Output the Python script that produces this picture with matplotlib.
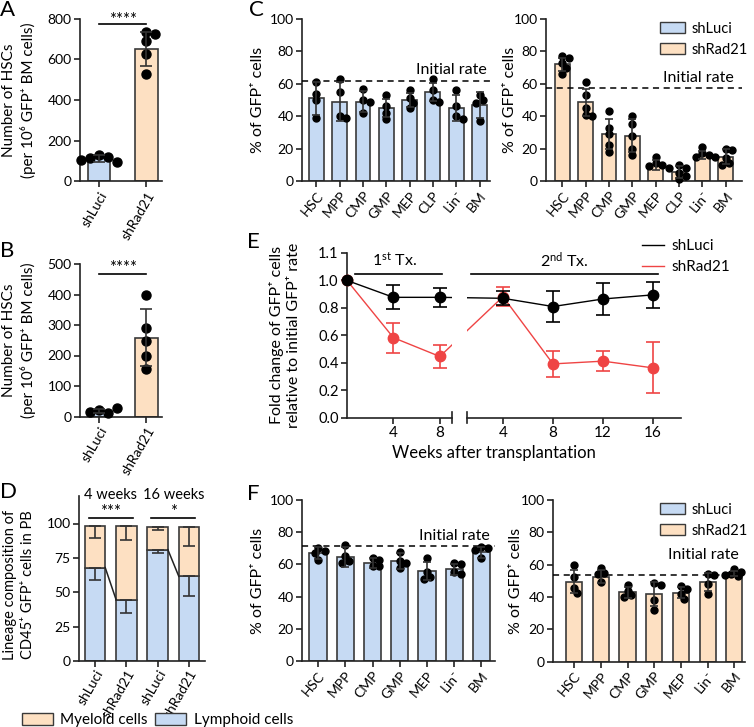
import matplotlib
matplotlib.use("Agg")
import matplotlib.pyplot as plt
import numpy as np
from matplotlib.patches import Patch
from matplotlib.lines import Line2D

plt.rcParams["font.family"] = ["Lato", "DejaVu Sans"]
plt.rcParams["mathtext.fontset"] = "custom"
plt.rcParams["mathtext.rm"] = "Lato"
plt.rcParams["mathtext.it"] = "Lato:italic"

# ---- data ----
groups = ["shLuci", "shRad21"]

a_mean = [112, 652]
a_sd = [18, 83]
a_pts = [[130, 118, 112, 95, 105], [735, 725, 690, 625, 530]]

b_mean = [18, 258]
b_sd = [6, 93]
b_pts = [[22, 12, 14, 28], [400, 290, 247, 198, 157]]

c_cells = ["HSC", "MPP", "CMP", "GMP", "MEP", "CLP", "Lin\u207b", "BM"]
c_luci_mean = [51, 49, 49, 45, 50, 55, 45, 47]
c_luci_sd = [10, 12, 6.5, 5.5, 4.5, 5.5, 8, 8]
c_luci_pts = [[61, 54, 50, 39], [63, 55, 40, 39], [57, 50, 49, 42], [53, 46, 42, 38],
              [56, 51, 48, 45], [63, 56, 50, 49], [56, 46, 40, 38], [53, 50, 48, 37]]
c_luci_initial = 62
c_rad_mean = [72, 48.5, 29, 28, 10, 5.5, 16, 15]
c_rad_sd = [4, 8.5, 9, 10, 3, 3.5, 2.5, 4.5]
c_rad_pts = [[77, 76, 73, 70, 66], [61, 53, 45, 41, 40], [43, 33, 29, 22, 18], [40, 35, 28, 20, 16],
             [15, 11, 10, 9, 8], [10, 8, 5, 3, 1], [21, 17, 16, 15, 15], [20, 19, 14, 11, 10]]
c_rad_initial = 57.5

d_labels = ["shLuci", "shRad21", "shLuci", "shRad21"]
d_lymph = [68, 44.5, 81, 61.5]
d_lymph_sd = [8.8, 9.5, 2.4, 14.5]
d_total = [98.2, 98.2, 97.3, 97.7]
d_myelo_sd = [8.8, 10, 2.2, 13.7]
d_times = ["4 weeks", "16 weeks"]
d_stars = ["***", "*"]

e_w1 = [0, 4, 8]
e_w2 = [4, 8, 12, 16]
e_luci1 = [1.0, 0.877, 0.877]
e_luci1_sd = [0, 0.087, 0.07]
e_luci2 = [0.87, 0.81, 0.865, 0.895]
e_luci2_sd = [0.05, 0.11, 0.115, 0.097]
e_rad1 = [1.0, 0.583, 0.446]
e_rad1_sd = [0, 0.11, 0.081]
e_rad2 = [0.882, 0.392, 0.412, 0.363]
e_rad2_sd = [0.068, 0.093, 0.074, 0.186]

f_cells = ["HSC", "MPP", "CMP", "GMP", "MEP", "Lin\u207b", "BM"]
f_luci_mean = [67, 64.5, 61, 62, 56, 57, 67.5]
f_luci_sd = [3.5, 6, 3, 5, 5.5, 3.5, 3.5]
f_luci_pts = [[70, 68.5, 67, 63], [72, 65, 62, 61], [64, 63, 59, 59], [68, 62, 61, 58],
              [64, 55, 52, 51], [61, 60, 55, 54], [71, 70, 69, 64]]
f_luci_initial = 71.5
f_rad_mean = [49.5, 52.6, 43, 42, 42.7, 49.3, 54.6]
f_rad_sd = [7, 4, 3.5, 7.5, 3.5, 5.5, 1.8]
f_rad_pts = [[60, 52.5, 45.5, 42.5], [57.7, 55, 54, 49], [47.4, 44, 41, 40], [48.5, 47.4, 38, 32],
             [47, 44.7, 42, 39], [54, 53.5, 48, 42], [57.3, 55.7, 54.2, 53.6, 53]]
f_rad_initial = 53.4

BLUE = "#c6daf3"
ORANGE = "#fde0c2"
EDGE = "#3a3a3a"
RED = "#ef4444"
W, H = 754, 727

fig = plt.figure(figsize=(W / 100, H / 100), dpi=100)


def add_ax(left, top, right, bottom):
    return fig.add_axes([left / W, 1 - bottom / H, (right - left) / W, (bottom - top) / H])


def style(ax, labelsize=10):
    for s in ["top", "right"]:
        ax.spines[s].set_visible(False)
    for s in ["left", "bottom"]:
        ax.spines[s].set_linewidth(1.2)
        ax.spines[s].set_color("#222222")
    ax.tick_params(width=1.2, length=4, labelsize=labelsize, color="#222222", pad=2)


def ylabel_px(ax, text, xpx, size=11.5, ypos=0.5):
    ax.set_ylabel(text, fontsize=size, linespacing=1.3)
    ax.yaxis.label.set_va("center")
    pos = ax.get_position()
    ax.yaxis.set_label_coords((xpx / W - pos.x0) / pos.width, ypos)


def swarm(ax, xc, vals, d_px, ms):
    tr = ax.transData
    placed = []
    for v in vals:
        px, py = tr.transform((xc, v))
        for k in [0, 1, -1, 2, -2, 3, -3, 4, -4]:
            cx = px + k * d_px * 0.5
            if all(np.hypot(cx - qx, py - qy) >= d_px * 0.8 for qx, qy in placed):
                break
        placed.append((cx, py))
    data = tr.inverted().transform(np.array(placed))
    ax.plot(data[:, 0], data[:, 1], "o", color="black", ms=ms, zorder=4, clip_on=False)


def dot_bars(ax, means, sds, pts, color, width, d_px, ms, capsize):
    x = np.arange(len(means))
    ax.bar(x, means, width=width, color=color, edgecolor=EDGE, linewidth=1.2, zorder=2)
    for i in x:
        swarm(ax, i, pts[i], d_px, ms)
    ax.errorbar(x, means, yerr=sds, fmt="none", ecolor="#333333", elinewidth=1.2,
                capsize=capsize, capthick=1.2, zorder=5)


def letter(txt, x, y):
    fig.text(x / W, 1 - y / H, txt, fontsize=16, va="top", ha="left")


# ---- A / B ----
for top, bottom, ymax, ticks, means, sds, pts, sig_y, star_y, let, let_y in [
        (19, 181, 800, [0, 200, 400, 600, 800], a_mean, a_sd, a_pts, 775, 795, "A", 0),
        (264, 416.5, 500, [0, 100, 200, 300, 400, 500], b_mean, b_sd, b_pts, 467, 487, "B", 241)]:
    ax = add_ax(80, top, 162, bottom)
    ax.set_xlim(-0.4, 1.33)
    ax.set_ylim(0, ymax)
    ax.set_yticks(ticks)
    x = np.arange(2)
    ax.bar(x, means, width=0.48, color=[BLUE, ORANGE], edgecolor=EDGE, linewidth=1.2, zorder=2)
    for i in x:
        swarm(ax, i, pts[i], 9, 6.5)
    ax.errorbar(x, means, yerr=sds, fmt="none", ecolor="#333333", elinewidth=1.2,
                capsize=4.5, capthick=1.2, zorder=5)
    ax.set_xticks(x)
    ax.set_xticklabels(groups, rotation=60, ha="right", rotation_mode="anchor", fontsize=9.5)
    style(ax)
    ax.plot([0, 1], [sig_y, sig_y], color="black", lw=1.2, clip_on=False)
    ax.text(0.5, star_y, "****", ha="center", va="center", fontsize=12)
    ylabel_px(ax, "Number of HSCs\n(per 10\u2076 GFP\u207a BM cells)", 19, size=11)
    letter(let, 0, let_y)

# ---- C ----
axc1 = add_ax(302, 19, 490, 181)
axc1.set_xlim(-0.62, 7.45)
axc1.set_ylim(0, 100)
dot_bars(axc1, c_luci_mean, c_luci_sd, c_luci_pts, BLUE, 0.64, 6.5, 5, 3)
axc1.axhline(c_luci_initial, color="black", lw=1.1, ls=(0, (4, 3)), zorder=3)
axc1.text(7.3, c_luci_initial + 2, "Initial rate", ha="right", va="bottom", fontsize=11.5)

axc2 = add_ax(546, 19, 742, 181)
axc2.set_xlim(-0.7, 7.7)
axc2.set_ylim(0, 100)
dot_bars(axc2, c_rad_mean, c_rad_sd, c_rad_pts, ORANGE, 0.64, 6.5, 5, 3)
axc2.axhline(c_rad_initial, color="black", lw=1.1, ls=(0, (4, 3)), zorder=3)
axc2.text(7.35, c_rad_initial + 2, "Initial rate", ha="right", va="bottom", fontsize=11.5)
axc2.legend(handles=[Patch(facecolor=BLUE, edgecolor=EDGE, label="shLuci"),
                     Patch(facecolor=ORANGE, edgecolor=EDGE, label="shRad21")],
            loc="upper left", bbox_to_anchor=((654 - 546) / 196, 1.02), frameon=False,
            fontsize=10.5, handlelength=1.7, handleheight=0.8, labelspacing=0.5,
            handletextpad=0.5, borderaxespad=0)

for ax in [axc1, axc2]:
    ax.set_yticks([0, 20, 40, 60, 80, 100])
    ax.set_xticks(np.arange(len(c_cells)))
    ax.set_xticklabels(c_cells, rotation=50, ha="right", rotation_mode="anchor", fontsize=9)
    style(ax)
ylabel_px(axc1, "% of GFP\u207a cells", 258)
ylabel_px(axc2, "% of GFP\u207a cells", 510)
letter("C", 249, 0)

# ---- D ----
axd = add_ax(79, 496, 205, 661)
axd.set_xlim(-0.51, 3.51)
axd.set_ylim(0, 120)
xd = np.arange(4)
wd = 0.65
myelo = np.array(d_total) - np.array(d_lymph)
axd.bar(xd, d_lymph, width=wd, color=BLUE, edgecolor=EDGE, linewidth=1.2, zorder=2)
axd.bar(xd, myelo, bottom=d_lymph, width=wd, color=ORANGE, edgecolor=EDGE, linewidth=1.2, zorder=2)
axd.errorbar(xd, d_lymph, yerr=[d_lymph_sd, np.zeros(4)], fmt="none", ecolor="#333333",
             elinewidth=1.2, capsize=4.5, capthick=1.2, zorder=5)
axd.errorbar(xd, d_total, yerr=[d_myelo_sd, np.zeros(4)], fmt="none", ecolor="#333333",
             elinewidth=1.2, capsize=4.5, capthick=1.2, zorder=5)
for j in range(2):
    i0, i1 = 2 * j, 2 * j + 1
    axd.plot([i0 + wd / 2, i1 - wd / 2], [d_lymph[i0], d_lymph[i1]], color="#222222", lw=1.1, zorder=3)
    axd.plot([i0 - 0.2, i1 + 0.2], [104, 104], color="black", lw=1.2, clip_on=False)
    axd.text((i0 + i1) / 2, 108.5, d_stars[j], ha="center", va="center", fontsize=12, clip_on=False)
    axd.text((i0 + i1) / 2, 121, d_times[j], ha="center", va="center", fontsize=10.5, clip_on=False)
axd.set_yticks([0, 25, 50, 75, 100])
axd.set_xticks(xd)
axd.set_xticklabels(d_labels, rotation=60, ha="right", rotation_mode="anchor", fontsize=8.5)
style(axd)
axd.tick_params(axis="x", pad=1)
ylabel_px(axd, "Lineage composition of\nCD45\u207a GFP\u207a cells in PB", 19, size=10.5, ypos=0.46)
letter("D", 0, 482)
fig.legend(handles=[Patch(facecolor=ORANGE, edgecolor=EDGE, label="Myeloid cells"),
                    Patch(facecolor=BLUE, edgecolor=EDGE, label="Lymphoid cells")],
           loc="lower left", bbox_to_anchor=(16 / W, -0.009), ncol=2, frameon=False, fontsize=11,
           handlelength=2.0, handleheight=0.8, columnspacing=0.5, handletextpad=0.5, borderaxespad=0)

# ---- E ----
e_top = 253
axe1 = add_ax(347, e_top, 452, 417.7)
axe2 = add_ax(467, e_top, 681, 417.7)
axe1.set_xlim(0, 9.05)
axe2.set_xlim(1.12, 18.24)
for ax in [axe1, axe2]:
    ax.set_ylim(0, 1.2)
    style(ax)
axe2.spines["left"].set_visible(False)
axe2.tick_params(left=False, labelleft=False)
axe1.set_yticks([0, 0.2, 0.4, 0.6, 0.8, 1.0, 1.2])
axe1.set_yticklabels(["0.0", "0.2", "0.4", "0.6", "0.8", "1.0", "1.1"])
axe1.set_xticks([4, 8])
axe2.set_xticks([4, 8, 12, 16])
for ax in [axe1, axe2]:
    ax.tick_params(axis="x", labelsize=11)
    ax.tick_params(axis="y", labelsize=10.5)

for (s1, sd1, s2, sd2, col) in [(e_rad1, e_rad1_sd, e_rad2, e_rad2_sd, RED),
                                (e_luci1, e_luci1_sd, e_luci2, e_luci2_sd, "black")]:
    axe1.plot(e_w1, s1, "-o", color=col, lw=1.0, ms=7.5, zorder=4, clip_on=False)
    axe1.errorbar(e_w1[1:], s1[1:], yerr=sd1[1:], fmt="none", ecolor=col, elinewidth=1.2,
                  capsize=5, capthick=1.2, zorder=4)
    axe2.plot(e_w2, s2, "-o", color=col, lw=1.0, ms=7.5, zorder=4)
    axe2.errorbar(e_w2, s2, yerr=sd2, fmt="none", ecolor=col, elinewidth=1.2,
                  capsize=5, capthick=1.2, zorder=4)
    # segment across the axis break
    p2 = axe1.transData.inverted().transform(axe2.transData.transform((e_w2[0], s2[0])))
    axe1.plot([e_w1[-1], p2[0]], [s1[-1], p2[1]], color=col, lw=1.0, zorder=3)
    p1 = axe2.transData.inverted().transform(axe1.transData.transform((e_w1[-1], s1[-1])))
    axe2.plot([p1[0], e_w2[0]], [p1[1], s2[0]], color=col, lw=1.0, zorder=3)

axe1.plot([1, 1], [-0.035, 0.035], transform=axe1.transAxes, color="#222222", lw=1.2, clip_on=False)
axe2.plot([0, 0], [-0.035, 0.035], transform=axe2.transAxes, color="#222222", lw=1.2, clip_on=False)
axe1.plot([0.7, 8.2], [1.05, 1.05], color="black", lw=1.2)
axe1.text(4.1, 1.15, r"1$^{\rm st}$ Tx.", ha="center", va="center", fontsize=11.5)
axe2.plot([1.45, 16.4], [1.05, 1.05], color="black", lw=1.2)
axe2.text(8.9, 1.15, r"2$^{\rm nd}$ Tx.", ha="center", va="center", fontsize=11.5)
ylabel_px(axe1, "Fold change of GFP\u207a cells\nrelative to initial GFP\u207a rate", 285)
fig.text(493.5 / W, 1 - 453 / H, "Weeks after transplantation", ha="center", va="center", fontsize=12)
fig.legend(handles=[Line2D([], [], color="black", lw=1.0, label="shLuci"),
                    Line2D([], [], color=RED, lw=1.0, label="shRad21")],
           loc="upper left", bbox_to_anchor=(636 / W, 1 - 233 / H), frameon=False, fontsize=11,
           handlelength=1.4, handletextpad=0.5, labelspacing=0.45, borderaxespad=0)
letter("E", 247, 232)

# ---- F ----
axf1 = add_ax(302, 500, 495, 661)
axf1.set_xlim(-0.59, 6.5)
axf1.set_ylim(0, 100)
dot_bars(axf1, f_luci_mean, f_luci_sd, f_luci_pts, BLUE, 0.63, 6.5, 5, 3)
axf1.axhline(f_luci_initial, color="black", lw=1.1, ls=(0, (4, 3)), zorder=3)
axf1.text(6.3, f_luci_initial + 2, "Initial rate", ha="right", va="bottom", fontsize=11.5)

axf2 = add_ax(553, 500, 745, 661.7)
axf2.set_xlim(-0.79, 6.4)
axf2.set_ylim(0, 100)
dot_bars(axf2, f_rad_mean, f_rad_sd, f_rad_pts, ORANGE, 0.6, 6.5, 5, 3)
axf2.axhline(f_rad_initial, color="black", lw=1.1, ls=(0, (4, 3)), zorder=3)
axf2.text(6.15, f_rad_initial + 8, "Initial rate", ha="right", va="bottom", fontsize=11.5)
axf2.legend(handles=[Patch(facecolor=BLUE, edgecolor=EDGE, label="shLuci"),
                     Patch(facecolor=ORANGE, edgecolor=EDGE, label="shRad21")],
            loc="upper left", bbox_to_anchor=((654 - 553) / 192, 1.02), frameon=False,
            fontsize=10.5, handlelength=1.7, handleheight=0.8, labelspacing=0.5,
            handletextpad=0.5, borderaxespad=0)
for ax in [axf1, axf2]:
    ax.set_yticks([0, 20, 40, 60, 80, 100])
    ax.set_xticks(np.arange(len(f_cells)))
    ax.set_xticklabels(f_cells, rotation=50, ha="right", rotation_mode="anchor", fontsize=9)
    style(ax)
ylabel_px(axf1, "% of GFP\u207a cells", 258)
ylabel_px(axf2, "% of GFP\u207a cells", 516)
letter("F", 247, 484)

fig.savefig("out.png", dpi=100)
